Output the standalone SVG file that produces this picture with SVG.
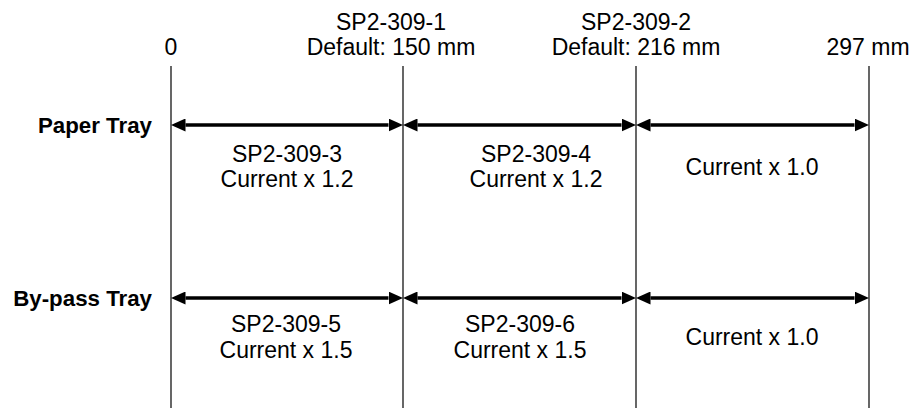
<svg xmlns="http://www.w3.org/2000/svg" width="913" height="410" viewBox="0 0 913 410">
<style>
.t{font-family:"Liberation Sans",Arial,sans-serif;font-size:23px;fill:#000;text-anchor:middle}
.b{font-family:"Liberation Sans",Arial,sans-serif;font-size:22.3px;font-weight:bold;fill:#000;text-anchor:end}
.v{stroke:#000;stroke-width:1.2;fill:none}
.a{stroke:#000;stroke-width:3.6;fill:none;marker-start:url(#ah);marker-end:url(#ah)}
</style>
<defs>
<marker id="ah" markerUnits="userSpaceOnUse" markerWidth="15" markerHeight="13" viewBox="0 0 15 13" refX="0" refY="6.5" orient="auto-start-reverse">
<path d="M0,0 L14.5,6.5 L0,13 z" fill="#000"/>
</marker>
</defs>
<rect width="913" height="410" fill="#fff"/>
<g id="guides">
<line class="v" x1="171" y1="66" x2="171" y2="408"/>
<line class="v" x1="403" y1="66" x2="403" y2="408"/>
<line class="v" x1="636" y1="66" x2="636" y2="408"/>
<line class="v" x1="869" y1="66" x2="869" y2="408"/>
</g>
<g id="scale-labels">
<text class="t" x="171" y="55">0</text>
<text class="t" x="391" y="30">SP2-309-1</text>
<text class="t" x="391" y="55">Default: 150 mm</text>
<text class="t" x="636" y="30">SP2-309-2</text>
<text class="t" x="636" y="55">Default: 216 mm</text>
<text class="t" x="868" y="55">297 mm</text>
</g>
<g id="row-paper">
<text class="b" x="152" y="133">Paper Tray</text>
<text class="t" x="287" y="162">SP2-309-3</text>
<text class="t" x="287" y="187">Current x 1.2</text>
<text class="t" x="536" y="162">SP2-309-4</text>
<text class="t" x="536" y="187">Current x 1.2</text>
<text class="t" x="752" y="175">Current x 1.0</text>
</g>
<g id="row-bypass">
<text class="b" x="152" y="306">By-pass Tray</text>
<text class="t" x="286" y="332">SP2-309-5</text>
<text class="t" x="286" y="358">Current x 1.5</text>
<text class="t" x="520" y="332">SP2-309-6</text>
<text class="t" x="520" y="358">Current x 1.5</text>
<text class="t" x="752" y="345">Current x 1.0</text>
</g>
<g id="connectors">
<line class="a" x1="185.5" y1="125" x2="388.5" y2="125"/>
<line class="a" x1="417.5" y1="125" x2="621.5" y2="125"/>
<line class="a" x1="650.5" y1="125" x2="854.5" y2="125"/>
<line class="a" x1="185.5" y1="298" x2="388.5" y2="298"/>
<line class="a" x1="417.5" y1="298" x2="621.5" y2="298"/>
<line class="a" x1="650.5" y1="298" x2="854.5" y2="298"/>
</g>
</svg>
